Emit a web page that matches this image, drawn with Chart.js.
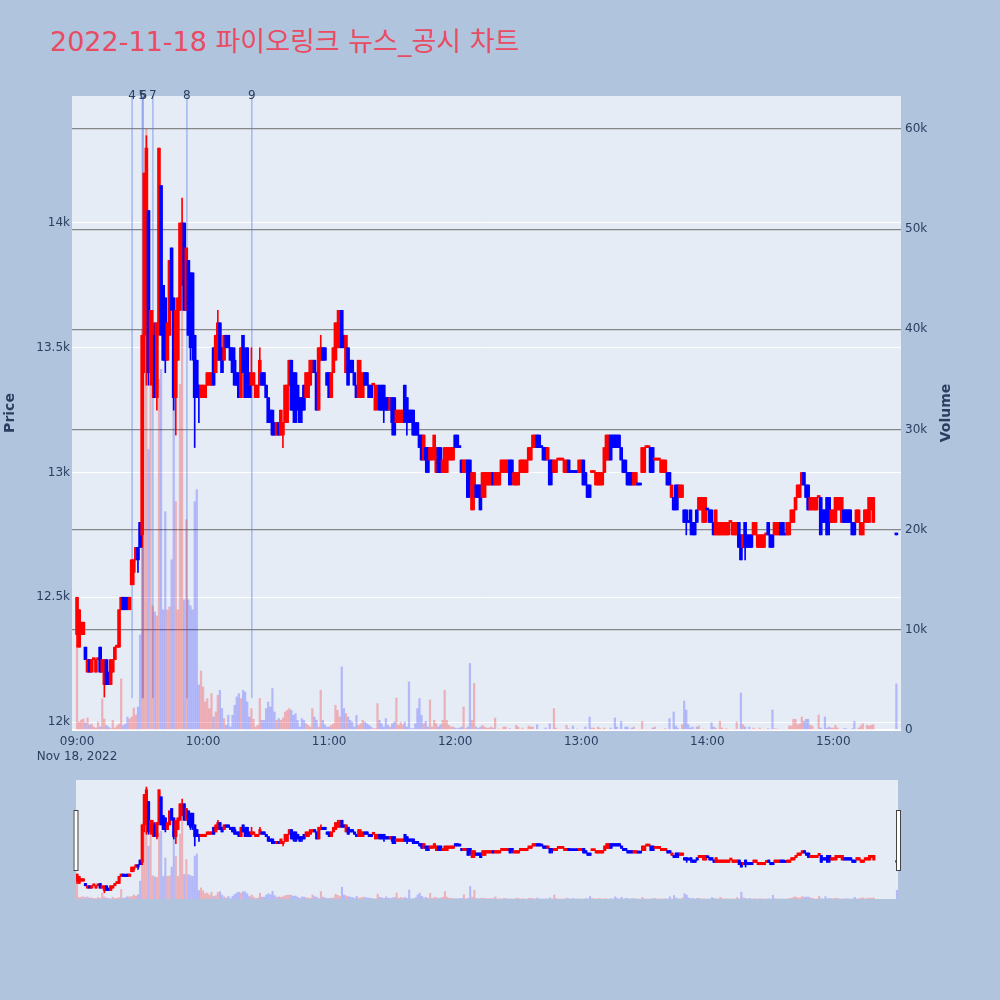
<!DOCTYPE html>
<html>
<head>
<meta charset="utf-8">
<script src="https://cdn.jsdelivr.net/npm/chart.js@4.4.0/dist/chart.umd.min.js"></script>
<style>
  html, body { margin: 0; padding: 0; background: #b0c4de; }
  #wrap { position: relative; width: 1000px; height: 1000px; overflow: hidden; }
  #title { position: absolute; left: 50px; top: 28px; font: 27px/1 "DejaVu Sans", "Noto Sans CJK KR", sans-serif; color: #e84c63; white-space: nowrap; }
  canvas { position: absolute; left: 0; }
  #main { top: 0; }
  #slider { top: 770px; }
</style>
</head>
<body>
<div id="wrap">
  <div id="title">2022-11-18 파이오링크 뉴스_공시 차트</div>
  <canvas id="main" width="1000" height="770"></canvas>
  <canvas id="slider" width="1000" height="140"></canvas>
</div>
<script>
// 1-minute candles for one session, index = minutes after 09:00.
// 15:20-15:29 has no trades, 15:30 is the closing auction.

const C = {
  up: "#ff0000", down: "#0000ff",
  upVol: "rgba(255,0,0,0.25)", downVol: "rgba(0,0,255,0.22)",
  plot: "#e5ecf6", text: "#2a3f5f", volGrid: "rgba(110,110,110,0.8)",
  marker: "rgba(80,120,230,0.45)",
};
const FONT = "'DejaVu Sans', 'Noto Sans CJK KR', sans-serif";
Chart.defaults.font.family = FONT;
Chart.defaults.font.size = 12;
Chart.defaults.color = C.text;

const timeTicks = [0, 60, 120, 180, 240, 300, 360];
const timeLabels = ["09:00", "10:00", "11:00", "12:00", "13:00", "14:00", "15:00"];
const dateLabel = "Nov 18, 2022";
const priceTicks = [12000, 12500, 13000, 13500, 14000];
const volumeTicks = [0, 10000, 20000, 30000, 40000, 50000, 60000];
const newsLabels = ["4", "5", "6", "7", "8", "9"];
const newsMinutes = [26.2, 31.1, 31.5, 36.1, 52.3, 83.2];

const opens = [
  12350,12300,12350,12350,12300,12200,12250,12200,12250,12200,
  12250,12300,12200,12150,12250,12200,12150,12200,12250,12300,
  12300,12450,12500,12450,12500,12450,12550,12600,12650,12700,
  12800,12750,13550,13650,14050,13400,13350,13550,13300,13600,
  14150,13750,13700,13450,13550,13900,13700,13300,13450,13650,
  13750,14000,13650,13850,13800,13800,13550,13450,13350,13300,
  13300,13300,13350,13350,13350,13500,13400,13450,13600,13500,
  13450,13550,13550,13500,13500,13450,13400,13400,13300,13550,
  13450,13500,13400,13350,13350,13300,13300,13350,13400,13400,
  13350,13300,13250,13250,13200,13150,13200,13150,13150,13200,
  13200,13350,13450,13400,13400,13350,13300,13300,13350,13300,
  13300,13350,13400,13450,13400,13250,13450,13500,13500,13400,
  13400,13300,13400,13450,13500,13500,13650,13550,13400,13500,
  13450,13450,13400,13350,13300,13300,13300,13400,13400,13350,
  13350,13350,13250,13300,13350,13350,13350,13300,13300,13250,
  13300,13300,13200,13200,13200,13200,13350,13300,13250,13250,
  13250,13200,13200,13150,13150,13050,13100,13100,13050,13050,
  13100,13000,13100,13100,13000,13000,13000,13050,13050,13050,
  13150,13150,13100,13050,13000,13000,13050,13050,12850,12900,
  12950,12950,12950,12900,12900,12950,12950,12950,13000,12950,
  12950,12950,13000,13000,13000,13000,13050,13050,12950,12950,
  12950,13000,13000,13000,13000,13050,13050,13100,13100,13150,
  13150,13100,13100,13100,13050,13050,13050,13000,13000,13050,
  13050,13050,13000,13000,13050,13000,13000,13000,13000,13000,
  13000,13050,13000,12950,12950,13000,13000,12950,12950,12950,
  12950,13000,13050,13050,13150,13150,13150,13150,13150,13100,
  13050,13050,13000,13000,13000,12950,12950,12950,12950,13000,
  13000,13100,13100,13100,13100,13050,13050,13050,13000,13000,
  13000,13000,13000,12900,12900,12950,12950,12900,12900,12850,
  12850,12800,12850,12800,12800,12850,12850,12850,12800,12800,
  12850,12850,12850,12800,12750,12750,12750,12750,12750,12750,
  12750,12800,12750,12750,12750,12800,12750,12700,12800,12750,
  12750,12750,12750,12750,12700,12700,12700,12700,12750,12800,
  12750,12750,12750,12750,12750,12800,12800,12750,12750,12750,
  12800,12800,12850,12900,12900,12950,13000,12950,12950,12850,
  12850,12850,12850,12900,12900,12850,12850,12900,12900,12800,
  12800,12800,12850,12850,12800,12850,12850,12850,12850,12800,
  12800,12800,12800,12750,12750,12800,12800,12800,12850,12800,
  null,null,null,null,null,null,null,null,null,null,
  12750,
];
const highs = [
  12500,12450,12400,12400,12300,12250,12250,12250,12250,12250,
  12250,12300,12250,12250,12250,12200,12250,12250,12300,12300,
  12450,12500,12500,12500,12500,12500,12650,12650,12700,12700,
  12800,13550,14200,14350,14050,13650,13650,13600,13600,14300,
  14150,13750,13700,13600,13850,13900,13700,13650,13700,14000,
  14100,14000,13900,13850,13800,13800,13550,13450,13350,13350,
  13350,13350,13400,13400,13400,13500,13550,13650,13600,13500,
  13550,13550,13550,13500,13500,13500,13400,13400,13500,13550,
  13500,13500,13400,13500,13400,13350,13350,13500,13400,13400,
  13350,13300,13250,13250,13200,13200,13200,13250,13200,13350,
  13350,13450,13450,13400,13400,13350,13300,13300,13350,13400,
  13400,13450,13450,13450,13400,13500,13550,13500,13500,13400,
  13400,13400,13500,13600,13650,13650,13650,13550,13550,13500,
  13450,13450,13400,13350,13450,13450,13400,13400,13400,13350,
  13350,13350,13350,13350,13350,13350,13350,13300,13300,13300,
  13300,13300,13250,13250,13250,13250,13350,13300,13250,13250,
  13250,13200,13200,13150,13150,13150,13100,13100,13100,13100,
  13150,13100,13100,13100,13050,13100,13100,13100,13100,13100,
  13150,13150,13100,13050,13050,13050,13050,13050,13000,13000,
  12950,12950,12950,13000,13000,13000,13000,13000,13000,13000,
  13000,13000,13050,13050,13050,13050,13050,13050,13000,13000,
  13000,13050,13050,13050,13050,13100,13100,13150,13150,13150,
  13150,13100,13100,13100,13100,13050,13050,13050,13050,13050,
  13050,13050,13050,13050,13050,13000,13000,13000,13000,13050,
  13050,13050,13000,12950,12950,13000,13000,13000,13000,13000,
  13000,13100,13150,13150,13150,13150,13150,13150,13150,13100,
  13050,13050,13000,13000,13000,13000,13000,12950,12950,13100,
  13100,13100,13100,13100,13100,13050,13050,13050,13050,13050,
  13050,13000,13000,12950,12900,12950,12950,12950,12950,12850,
  12850,12800,12850,12800,12800,12850,12900,12900,12900,12900,
  12850,12850,12850,12800,12850,12800,12800,12800,12800,12800,
  12800,12800,12800,12800,12800,12800,12750,12750,12800,12750,
  12750,12750,12800,12800,12750,12750,12750,12750,12750,12800,
  12750,12750,12800,12800,12800,12800,12800,12750,12800,12800,
  12850,12850,12900,12950,12950,13000,13000,12950,12950,12900,
  12900,12900,12900,12900,12900,12850,12850,12900,12900,12850,
  12850,12900,12900,12900,12900,12850,12850,12850,12850,12800,
  12800,12850,12850,12800,12800,12850,12850,12900,12900,12900,
  null,null,null,null,null,null,null,null,null,null,
  12750,
];
const lows = [
  12300,12300,12350,12350,12250,12200,12200,12200,12250,12200,
  12250,12200,12200,12100,12150,12150,12150,12200,12250,12300,
  12300,12450,12450,12450,12450,12450,12550,12550,12650,12600,
  12700,12700,13400,13350,13350,13350,13300,13300,13250,13550,
  13550,13450,13400,13450,13550,13650,13250,13150,13450,13650,
  13750,13650,13650,13550,13450,13450,13100,13300,13200,13300,
  13300,13300,13350,13350,13350,13350,13400,13450,13450,13400,
  13450,13500,13500,13450,13400,13350,13350,13300,13300,13400,
  13300,13300,13300,13300,13350,13300,13300,13350,13350,13350,
  13300,13200,13200,13150,13150,13150,13150,13150,13100,13200,
  13200,13350,13250,13200,13200,13250,13200,13200,13250,13300,
  13300,13350,13400,13400,13250,13250,13450,13450,13450,13350,
  13300,13300,13400,13450,13500,13500,13500,13500,13400,13350,
  13400,13400,13350,13300,13300,13300,13300,13350,13350,13300,
  13300,13350,13250,13250,13250,13250,13200,13250,13250,13250,
  13150,13150,13200,13200,13200,13200,13200,13150,13200,13200,
  13150,13150,13150,13100,13050,13050,13000,13000,13050,13050,
  13050,13000,13000,13000,13000,13000,13000,13050,13050,13050,
  13100,13100,13100,13000,13000,13000,12900,12900,12850,12850,
  12900,12900,12850,12900,12900,12950,12950,12950,12950,12950,
  12950,12950,13000,13000,13000,13000,12950,12950,12950,12950,
  12950,13000,13000,13000,13000,13050,13050,13100,13100,13100,
  13100,13100,13050,13050,13050,12950,12950,13000,13000,13050,
  13050,13050,13000,13000,13000,13000,13000,13000,13000,13000,
  13000,12950,12950,12900,12900,13000,13000,12950,12950,12950,
  12950,13000,13050,13050,13050,13100,13100,13100,13100,13050,
  13000,13000,12950,12950,12950,12950,12950,12950,12950,13000,
  13000,13100,13100,13000,13000,13050,13050,13050,13000,13000,
  13000,12950,12950,12900,12850,12850,12850,12900,12900,12800,
  12750,12800,12750,12750,12750,12800,12850,12850,12800,12800,
  12850,12800,12800,12750,12750,12750,12750,12750,12750,12750,
  12750,12800,12750,12750,12750,12700,12650,12700,12650,12700,
  12700,12700,12750,12750,12700,12700,12700,12700,12750,12750,
  12700,12700,12750,12750,12750,12750,12750,12750,12750,12750,
  12800,12800,12850,12900,12900,12950,12950,12900,12850,12850,
  12850,12850,12850,12900,12750,12800,12800,12750,12750,12800,
  12800,12800,12850,12850,12800,12800,12800,12800,12800,12750,
  12750,12800,12800,12750,12750,12800,12800,12800,12850,12800,
  null,null,null,null,null,null,null,null,null,null,
  12750,
];
const closes = [
  12500,12450,12400,12400,12250,12250,12200,12250,12250,12250,
  12250,12200,12250,12250,12150,12150,12250,12250,12300,12300,
  12450,12500,12450,12450,12450,12500,12650,12650,12700,12650,
  12700,13550,14200,14300,13400,13650,13600,13300,13600,14300,
  13550,13450,13450,13600,13850,13650,13300,13650,13700,14000,
  14000,13650,13900,13550,13500,13550,13300,13300,13300,13350,
  13350,13350,13400,13400,13400,13350,13550,13600,13450,13400,
  13550,13500,13500,13450,13400,13350,13350,13300,13500,13400,
  13300,13350,13300,13400,13400,13350,13350,13450,13350,13350,
  13300,13200,13200,13150,13150,13200,13150,13250,13200,13350,
  13350,13450,13250,13250,13200,13250,13200,13250,13250,13400,
  13400,13450,13450,13400,13250,13500,13500,13450,13450,13350,
  13300,13400,13500,13600,13600,13650,13500,13500,13550,13350,
  13400,13400,13350,13300,13450,13400,13400,13350,13350,13300,
  13300,13350,13350,13350,13250,13250,13250,13250,13250,13300,
  13200,13150,13250,13250,13250,13250,13200,13200,13200,13200,
  13150,13150,13150,13100,13050,13150,13050,13000,13100,13100,
  13150,13100,13000,13000,13050,13100,13100,13100,13100,13100,
  13100,13100,13100,13000,13050,13050,12900,12950,13000,13000,
  12900,12900,12850,13000,13000,13000,13000,13000,12950,13000,
  13000,13000,13050,13050,13050,13050,12950,13000,13000,13000,
  13000,13050,13050,13050,13050,13100,13100,13150,13150,13100,
  13100,13100,13050,13050,13100,12950,13000,13050,13050,13050,
  13050,13050,13050,13050,13000,13000,13000,13000,13000,13050,
  13050,12950,12950,12900,12900,13000,13000,13000,13000,13000,
  13000,13100,13150,13150,13050,13100,13100,13100,13100,13050,
  13000,13000,12950,12950,12950,13000,13000,12950,12950,13100,
  13100,13100,13100,13000,13000,13050,13050,13050,13050,13050,
  13050,12950,12950,12950,12850,12850,12900,12950,12950,12800,
  12800,12800,12800,12750,12750,12800,12900,12900,12900,12900,
  12850,12800,12800,12750,12850,12800,12800,12800,12800,12800,
  12800,12800,12800,12800,12800,12700,12650,12750,12700,12700,
  12700,12700,12800,12800,12750,12750,12750,12750,12750,12750,
  12700,12700,12800,12800,12800,12750,12750,12750,12800,12800,
  12850,12850,12900,12950,12950,13000,12950,12900,12850,12900,
  12900,12900,12900,12900,12750,12800,12800,12750,12800,12850,
  12850,12900,12900,12900,12900,12800,12800,12800,12800,12750,
  12750,12850,12850,12800,12800,12850,12850,12900,12900,12900,
  null,null,null,null,null,null,null,null,null,null,
  12750,
];
const volumes = [
  8500,800,1000,1100,700,1200,500,600,300,200,
  800,300,3100,1100,450,300,150,970,200,400,
  600,5100,450,600,1300,1100,1300,2200,1500,2300,
  9500,40000,55000,60000,28000,35000,12400,11800,11400,35000,
  36000,12000,21800,12000,12300,17000,34500,22800,12000,34500,
  45000,13000,21000,13000,12400,12000,22800,24000,4500,5900,
  4300,2800,3140,2140,3640,1300,1800,3470,3970,2140,
  1140,470,1470,300,1470,2470,3300,3640,3140,3970,
  3800,2800,1300,2140,1070,300,470,3140,970,970,
  2140,2800,2300,4140,1800,970,1140,970,1200,1800,
  1970,2140,1970,1470,1640,970,300,1140,970,630,
  470,300,2140,1300,970,300,3970,970,530,300,
  300,470,630,2470,1970,1300,6300,2140,1640,1300,
  970,800,300,1470,470,630,970,800,630,470,
  300,130,130,2640,970,630,300,1140,470,300,
  630,800,3200,470,800,530,800,300,4800,130,
  130,630,2140,3140,1470,630,870,300,3000,300,
  970,630,300,530,970,3970,970,470,300,300,
  200,130,200,300,2300,130,300,6650,970,4640,
  300,130,300,470,300,200,200,300,200,1200,
  0,100,0,300,300,0,130,0,0,470,
  300,0,200,0,0,400,300,300,0,530,
  0,0,0,200,0,630,0,2140,200,0,
  0,0,0,470,130,0,400,0,100,0,
  0,0,300,0,1300,200,200,0,300,130,
  0,200,0,0,200,0,1200,300,0,870,
  0,300,300,0,200,300,0,0,0,870,
  0,0,0,0,200,300,0,0,0,0,
  130,0,1140,0,1800,400,200,0,530,2900,
  2000,530,200,300,0,300,400,0,100,0,
  0,0,730,300,200,0,870,200,0,130,
  0,0,0,0,800,0,3700,530,300,0,
  300,0,200,0,0,200,0,0,0,130,
  0,2000,130,100,0,0,0,0,0,400,
  400,1070,1070,530,630,1300,870,1070,1070,470,
  400,0,0,1500,200,0,1300,200,300,200,
  200,470,200,0,0,130,130,0,0,130,
  870,0,200,400,630,0,470,400,470,530,
  null,null,null,null,null,null,null,null,null,null,
  4600,
];

// candle direction, plotly-style: a flat candle compares with the previous close
const dirs = [];
let prevClose = null, rising = true;
closes.forEach((c, i) => {
  if (c == null) { dirs.push(null); return; }
  const o = opens[i];
  if (c !== o) rising = c > o;
  else if (prevClose !== null && c !== prevClose) rising = c > prevClose;
  prevClose = c;
  dirs.push(rising);
});
const live = closes.map((c, i) => (c == null ? -1 : i)).filter((i) => i >= 0);

function candleSets(body, wick, vol) {
  const col = (a, b) => live.map((i) => (dirs[i] ? a : b));
  return [
    { data: live.map((i) => ({ x: i, y: [opens[i], closes[i]] })), backgroundColor: col(C.up, C.down),
      barThickness: body, minBarLength: 2, grouped: false, order: 1, yAxisID: "y" },
    { data: live.map((i) => ({ x: i, y: [lows[i], highs[i]] })), backgroundColor: col(C.up, C.down),
      barThickness: wick, grouped: false, order: 2, yAxisID: "y" },
    { data: live.map((i) => ({ x: i, y: volumes[i] })), backgroundColor: col(C.upVol, C.downVol),
      barThickness: vol, grouped: false, order: 3, yAxisID: "y1" },
  ];
}

const plotBg = {
  id: "plotBg",
  beforeDraw(chart) {
    const { ctx, chartArea: a } = chart;
    ctx.save();
    ctx.fillStyle = C.plot;
    ctx.fillRect(a.left, a.top, a.right - a.left, a.bottom - a.top);
    ctx.restore();
  },
};

const newsMarks = {
  id: "newsMarks",
  beforeDatasetsDraw(chart) {
    const { ctx, chartArea: a, scales } = chart;
    const end = a.bottom - 0.05 * (a.bottom - a.top);
    ctx.save();
    ctx.strokeStyle = C.marker;
    ctx.lineWidth = 1.5;
    newsMinutes.forEach((m) => {
      const x = scales.x.getPixelForValue(m);
      ctx.beginPath(); ctx.moveTo(x, a.top); ctx.lineTo(x, end); ctx.stroke();
    });
    ctx.restore();
  },
  afterDraw(chart) {
    const { ctx, chartArea: a, scales } = chart;
    ctx.save();
    ctx.fillStyle = C.text;
    ctx.font = "12px " + FONT;
    ctx.textAlign = "center";
    ctx.textBaseline = "middle";
    newsMinutes.forEach((m, k) => ctx.fillText(newsLabels[k], scales.x.getPixelForValue(m), a.top));
    // right axis title reads bottom-to-top like the left one
    ctx.translate(946, (a.top + a.bottom) / 2);
    ctx.rotate(-Math.PI / 2);
    ctx.font = "bold 14px " + FONT;
    ctx.fillText("Volume", 0, 0);
    ctx.restore();
  },
};

const fixTicks = (vals) => (s) => { s.ticks = vals.map((v) => ({ value: v })); };
const kfmt = (v) => (v === 0 ? "0" : v / 1000 + "k");

new Chart(document.getElementById("main"), {
  type: "bar",
  data: { datasets: candleSets(3, 1, 1.6) },
  options: {
    responsive: false, animation: false, devicePixelRatio: 1,
    layout: { padding: { top: 96, left: 0, right: 0, bottom: 0 } },
    plugins: { legend: { display: false }, tooltip: { enabled: false } },
    scales: {
      x: {
        type: "linear", min: -2.4, max: 392.2, offset: false,
        grid: { display: false, drawTicks: false }, border: { display: false },
        afterBuildTicks: fixTicks(timeTicks),
        ticks: { autoSkip: false, maxRotation: 0, padding: 5,
                 callback: (v, i) => (i === 0 ? [timeLabels[0], dateLabel] : timeLabels[i]) },
        afterFit: (s) => { s.height = 40; },
      },
      y: {
        position: "left", min: 11968, max: 14509,
        afterBuildTicks: fixTicks(priceTicks),
        ticks: { padding: 2, callback: kfmt },
        grid: { color: "#ffffff", lineWidth: 1, drawTicks: false }, border: { display: false },
        title: { display: true, text: "Price", font: { size: 14, weight: "bold" }, padding: { top: 2, bottom: 0 } },
        afterFit: (s) => { s.width = 72; },
      },
      y1: {
        position: "right", min: 0, max: 63300,
        afterBuildTicks: fixTicks(volumeTicks),
        ticks: { padding: 4, callback: kfmt },
        grid: { color: (c) => (c.tick && c.tick.value === 0 ? "#ffffff" : C.volGrid),
                lineWidth: (c) => (c.tick && c.tick.value === 0 ? 2 : 1.2), drawTicks: false },
        border: { display: false },
        afterFit: (s) => { s.width = 99; },
      },
    },
  },
  plugins: [plotBg, newsMarks],
});

const sliderHandles = {
  id: "sliderHandles",
  afterDraw(chart) {
    const { ctx, chartArea: a } = chart;
    ctx.save();
    ctx.fillStyle = "#ffffff";
    ctx.strokeStyle = "#444444";
    ctx.lineWidth = 1;
    [a.left - 2.5, a.right - 2].forEach((x) => {
      ctx.fillRect(x, a.top + 30, 4, 60);
      ctx.strokeRect(x + 0.5, a.top + 30.5, 4, 60);
    });
    ctx.restore();
  },
};

new Chart(document.getElementById("slider"), {
  type: "bar",
  data: { datasets: candleSets(2.5, 1, 1.4) },
  options: {
    responsive: false, animation: false, devicePixelRatio: 1,
    layout: { padding: { top: 10, left: 76, right: 102, bottom: 11 } },
    plugins: { legend: { display: false }, tooltip: { enabled: false } },
    scales: {
      x: { type: "linear", min: -0.5, max: 390.5, offset: false, display: false },
      y: { min: 11968, max: 14509, display: false },
      y1: { min: 0, max: 63300, display: false },
    },
  },
  plugins: [plotBg, sliderHandles],
});
</script>
</body>
</html>
